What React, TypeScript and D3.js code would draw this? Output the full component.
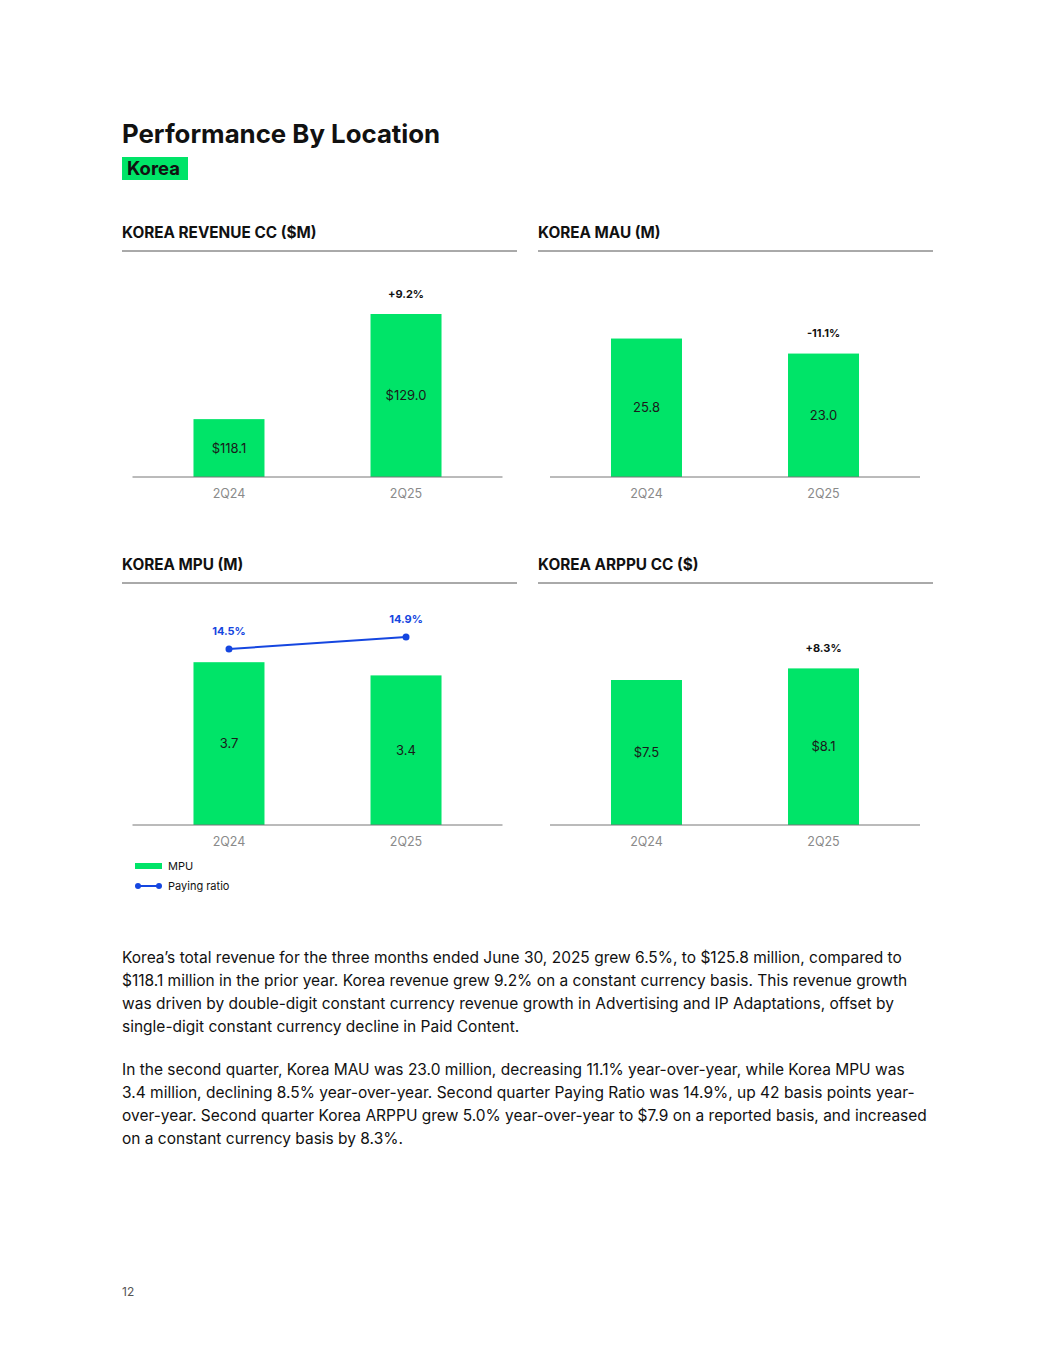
import React from 'react';
import * as d3 from 'd3';

const categories = ['2Q24', '2Q25'];
const revenue = [118.1, 129.0];
const mau = [25.8, 23.0];
const mpu = [3.7, 3.4];
const payingRatio = [14.5, 14.9];
const arppu = [7.5, 8.1];
const revenueChange = '+9.2%';
const mauChange = '-11.1%';
const arppuChange = '+8.3%';

const paragraph1 = [
  'Korea\u2019s total revenue for the three months ended June 30, 2025 grew 6.5%, to $125.8 million, compared to',
  '$118.1 million in the prior year. Korea revenue grew 9.2% on a constant currency basis. This revenue growth',
  'was driven by double-digit constant currency revenue growth in Advertising and IP Adaptations, offset by',
  'single-digit constant currency decline in Paid Content.',
];
const paragraph2 = [
  'In the second quarter, Korea MAU was 23.0 million, decreasing 11.1% year-over-year, while Korea MPU was',
  '3.4 million, declining 8.5% year-over-year. Second quarter Paying Ratio was 14.9%, up 42 basis points year-',
  'over-year. Second quarter Korea ARPPU grew 5.0% year-over-year to $7.9 on a reported basis, and increased',
  'on a constant currency basis by 8.3%.',
];

const GREEN = '#00E468';
const BLUE = '#1546E0';
const FONT = 'Inter, "Noto Sans", sans-serif';

type PanelProps = {
  left: number;
  axisOffset: number;
  titleY: number;
  baseY: number;
  title: string;
  values: number[];
  domain: [number, number];
  topY: number;
  fmt: (v: number) => string;
  change?: string;
};

function Panel({ left, axisOffset, titleY, baseY, title, values, domain, topY, fmt, change }: PanelProps) {
  const x = d3.scalePoint<string>().domain(categories).range([left + axisOffset, left + axisOffset + 370]).padding(0.545);
  const y = d3.scaleLinear().domain(domain).range([baseY, topY]);
  const bw = 71;
  return (
    <g>
      <text x={left} y={titleY} fontFamily={FONT} fontWeight={700} fontSize={15.3} fill="#111">{title}</text>
      <line x1={left} x2={left + 395} y1={titleY + 13} y2={titleY + 13} stroke="#555" strokeWidth={1} />
      {values.map((v, i) => {
        const cx = x(categories[i])!;
        const top = y(v);
        return (
          <g key={i}>
            <rect x={cx - bw / 2} y={top} width={bw} height={baseY - top} fill={GREEN} />
            <text x={cx} y={(top + baseY) / 2} dy="0.35em" textAnchor="middle" fontFamily={FONT} fontSize={13} fill="#1a1a1a">{fmt(v)}</text>
            {i === 1 && change ? (
              <text x={cx} y={top - 20} dy="0.35em" textAnchor="middle" fontFamily={FONT} fontWeight={700} fontSize={11} fill="#111">{change}</text>
            ) : null}
          </g>
        );
      })}
      <line x1={left + axisOffset} x2={left + axisOffset + 370} y1={baseY} y2={baseY} stroke="#777" strokeWidth={1} />
      {categories.map((c) => (
        <text key={c} x={x(c)!} y={baseY + 17} dy="0.35em" textAnchor="middle" fontFamily={FONT} fontSize={12.5} fill="#8a8a8a">{c}</text>
      ))}
    </g>
  );
}

export default function App() {
  const left2 = 538;
  const xMpu = d3.scalePoint<string>().domain(categories).range([132.5, 502.5]).padding(0.545);
  const yRatio = d3.scaleLinear().domain([14, 15]).range([664, 634]);
  const line = d3.line<number>().x((_, i) => xMpu(categories[i])!).y((d) => yRatio(d));

  return (
    <svg width={1055} height={1365} style={{ position: 'absolute', left: 0, top: 0, background: '#fff' }}>
      <rect width={1055} height={1365} fill="#fff" />
      <text x={122} y={143} fontFamily={FONT} fontWeight={700} fontSize={25.8} fill="#111">Performance By Location</text>
      <rect x={122} y={157} width={66} height={23} fill={GREEN} />
      <text x={127} y={175} fontFamily={FONT} fontWeight={700} fontSize={18.5} fill="#111">Korea</text>

      <Panel left={122} axisOffset={10.5} titleY={238} baseY={477} title="KOREA REVENUE CC ($M)" values={revenue} domain={[112.1, 129]} topY={314} fmt={(v) => `$${v.toFixed(1)}`} change={revenueChange} />
      <Panel left={left2} axisOffset={12} titleY={238} baseY={477} title="KOREA MAU (M)" values={mau} domain={[0, 30]} topY={316} fmt={(v) => v.toFixed(1)} change={mauChange} />
      <Panel left={122} axisOffset={10.5} titleY={570} baseY={825} title="KOREA MPU (M)" values={mpu} domain={[0, 4]} topY={649} fmt={(v) => v.toFixed(1)} />
      <Panel left={left2} axisOffset={12} titleY={570} baseY={825} title="KOREA ARPPU CC ($)" values={arppu} domain={[0, 9]} topY={651} fmt={(v) => `$${v.toFixed(1)}`} change={arppuChange} />

      <path d={line(payingRatio)!} fill="none" stroke={BLUE} strokeWidth={2} />
      {payingRatio.map((v, i) => (
        <g key={i}>
          <circle cx={xMpu(categories[i])!} cy={yRatio(v)} r={3.5} fill={BLUE} />
          <text x={xMpu(categories[i])!} y={yRatio(v) - 18} dy="0.35em" textAnchor="middle" fontFamily={FONT} fontWeight={700} fontSize={11} fill={BLUE}>{v.toFixed(1)}%</text>
        </g>
      ))}

      <rect x={135} y={863} width={27} height={6} fill={GREEN} />
      <text x={168} y={866} dy="0.35em" fontFamily={FONT} fontSize={11} fill="#111">MPU</text>
      <line x1={138} x2={159} y1={886} y2={886} stroke={BLUE} strokeWidth={2} />
      <circle cx={138} cy={886} r={3} fill={BLUE} />
      <circle cx={159} cy={886} r={3} fill={BLUE} />
      <text x={168} y={886} dy="0.35em" fontFamily={FONT} fontSize={11} fill="#111">Paying ratio</text>

      {paragraph1.map((t, i) => (
        <text key={'a' + i} x={122} y={963 + i * 23} fontFamily={FONT} fontSize={15.5} fill="#111">{t}</text>
      ))}
      {paragraph2.map((t, i) => (
        <text key={'b' + i} x={122} y={1075 + i * 23} fontFamily={FONT} fontSize={15.5} fill="#111">{t}</text>
      ))}
      <text x={122} y={1296} fontFamily={FONT} fontSize={12} fill="#555">12</text>
    </svg>
  );
}
